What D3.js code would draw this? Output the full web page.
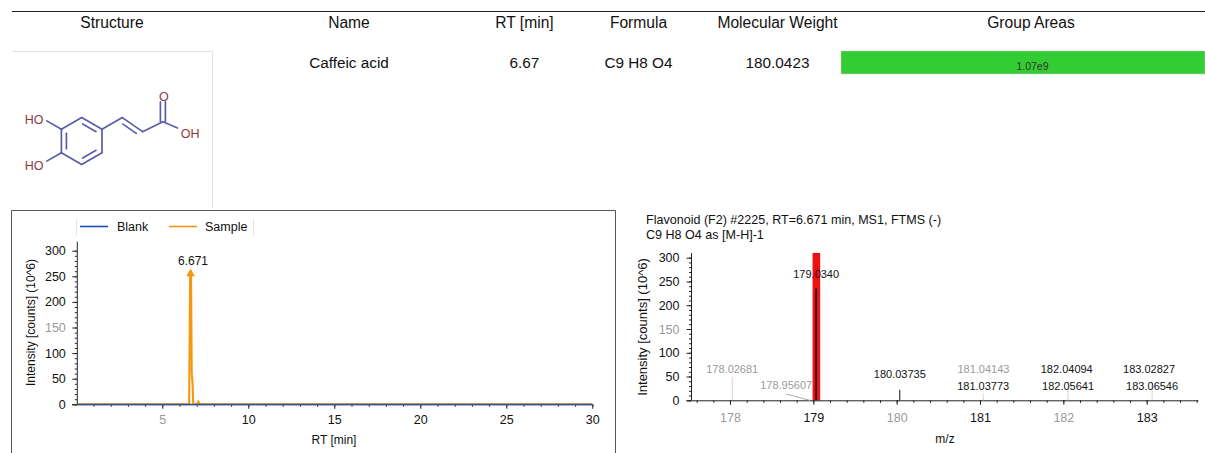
<!DOCTYPE html>
<html>
<head>
<meta charset="utf-8">
<script src="https://cdn.jsdelivr.net/npm/d3@7"></script>
<style>
  html, body { margin: 0; background: #fff; }
  svg { display: block; }
  text { font-family: "Liberation Sans", Arial, sans-serif; fill: #111; }
</style>
</head>
<body>
<div id="chart"></div>
<script>
// table
const headers = ['Structure', 'Name', 'RT [min]', 'Formula', 'Molecular Weight', 'Group Areas']
const rowValues = ['', 'Caffeic acid', '6.67', 'C9 H8 O4', '180.0423', '']
const groupArea = '1.07e9'

// chromatogram
const rtTicks = [5, 10, 15, 20, 25, 30]
const intensityTicks = [0, 50, 100, 150, 200, 250, 300]
const blankRt = [0.1, 30]
const blankIntensity = [0, 0]
const sampleRt = [0.1, 6.56, 6.62, 6.67, 6.71, 6.75, 6.8, 7.02, 7.1, 7.18, 30]
const sampleIntensity = [0, 0, 259, 259, 60, 46, 0, 0, 5, 0, 0]
const apexRt = 6.671
const apexIntensity = 259

// spectrum
const mzTicks = [178, 179, 180, 181, 182, 183]
const spectrumMz = [178.02681, 178.95607, 179.034, 180.03735, 181.04143, 181.03773, 182.04094, 182.05641, 183.02827, 183.06546]
const spectrumIntensity = [48, 1, 235, 22, 1, 14, 1, 42, 1, 38]
const spectrumLabels = ['178.02681', '178.95607', '179.0340', '180.03735', '181.04143', '181.03773', '182.04094', '182.05641', '183.02827', '183.06546']

// caffeic acid, lattice of half bonds
const molAtoms = [[0, -2], [1, -1], [1, 1], [0, 2], [-1, 1], [-1, -1], [2, -2], [3, -0.8], [4, -1.65], [4, -4], [5, -0.9], [-2, -2], [-2, 2]]
const molBonds = [[0, 1, 2], [1, 2, 1], [2, 3, 2], [3, 4, 1], [4, 5, 2], [5, 0, 1], [1, 6, 1], [6, 7, 2], [7, 8, 1], [8, 9, 2], [8, 10, 1], [5, 11, 1], [4, 12, 1]]
const molLabels = [[9, 'O'], [10, 'OH'], [11, 'HO'], [12, 'HO']]

const greyLabels = new Set(['5', '150', '178', '180', '182'])
const inkColor = '#111'
const greyColor = '#9a9a9a'
const blankColor = '#1c4fbd'
const sampleColor = '#f5970f'

const svg = d3.select('#chart').append('svg').attr('width', 1205).attr('height', 453)

// ---- table
const columnX = [112, 349, 524.5, 638.5, 777.5, 1031]
svg.append('line').attr('x1', 12).attr('x2', 1205).attr('y1', 11.5).attr('y2', 11.5).attr('stroke', '#222').attr('stroke-width', 1)
svg.selectAll('.header').data(headers).enter().append('text')
  .attr('class', 'header')
  .attr('x', (d, i) => columnX[i])
  .attr('y', 28)
  .attr('text-anchor', 'middle')
  .attr('font-size', 15.6)
  .text(d => d)
svg.selectAll('.cell').data(rowValues).enter().append('text')
  .attr('class', 'cell')
  .attr('x', (d, i) => columnX[i])
  .attr('y', 67.5)
  .attr('text-anchor', 'middle')
  .attr('font-size', 15.3)
  .text(d => d)
svg.append('rect').attr('x', 841).attr('y', 51).attr('width', 364).attr('height', 23)
  .attr('fill', '#33cc33').attr('stroke', '#c8c8c8').attr('stroke-width', 0.5)
svg.append('text').attr('x', 1032.5).attr('y', 70).attr('text-anchor', 'middle')
  .attr('font-size', 10.5).style('fill', '#333').text(groupArea)

// ---- structure
svg.append('path').attr('d', 'M12.5,51.5H212.5V208').attr('fill', 'none').attr('stroke', '#e2e2e2')

const molX = d3.scaleLinear().domain([0, 1]).range([81.7, 102])
const molY = d3.scaleLinear().domain([0, 1]).range([141, 152.7])
const mol = svg.append('g').attr('stroke', '#5b5ea6').attr('stroke-width', 1.7).attr('stroke-linecap', 'round')
const ringCentre = [0, 0]
molBonds.forEach(([a, b, order]) => {
  const [x1, y1] = molAtoms[a]
  const [x2, y2] = molAtoms[b]
  const ax = molX(x1)
  const ay = molY(y1)
  const bx = molX(x2)
  const by = molY(y2)
  const len = Math.hypot(bx - ax, by - ay)
  // terminal bonds stop short of the hetero atom label
  const cut = molLabels.some(l => l[0] === b) ? 0.28 : 0
  if (a === 8 && b === 9) {
    // carbonyl, two lines either side of the atom column
    [-2.5, 2.5].forEach(off => {
      mol.append('line')
        .attr('x1', ax + off).attr('y1', ay)
        .attr('x2', bx + off).attr('y2', by - (by - ay) * cut)
    })
    return
  }
  mol.append('line')
    .attr('x1', ax).attr('y1', ay)
    .attr('x2', bx - (bx - ax) * cut).attr('y2', by - (by - ay) * cut)
  if (order === 2) {
    let nx = -(by - ay) / len
    let ny = (bx - ax) / len
    const inRing = a < 6 && b < 6
    if (inRing) {
      const mx = (ax + bx) / 2 - molX(ringCentre[0])
      const my = (ay + by) / 2 - molY(ringCentre[1])
      if (mx * nx + my * ny > 0) { nx = -nx; ny = -ny }
    } else if (ny < 0) {
      nx = -nx
      ny = -ny
    }
    const gap = 5
    const inset = 0.17
    mol.append('line')
      .attr('x1', ax + (bx - ax) * inset + nx * gap)
      .attr('y1', ay + (by - ay) * inset + ny * gap)
      .attr('x2', ax + (bx - ax) * (1 - inset) + nx * gap)
      .attr('y2', ay + (by - ay) * (1 - inset) + ny * gap)
  }
})
const molLabelDx = { O: 1, OH: 7, HO: -7 }
const molLabelDy = { O: 7, OH: 8, HO: 6 }
svg.selectAll('.atom').data(molLabels).enter().append('text')
  .attr('class', 'atom')
  .attr('x', d => molX(molAtoms[d[0]][0]) + molLabelDx[d[1]])
  .attr('y', d => molY(molAtoms[d[0]][1]) + molLabelDy[d[1]])
  .attr('text-anchor', 'middle')
  .attr('font-size', 12.5)
  .style('fill', '#8c3a3f')
  .text(d => d[1])

// helper for the two plots, tick text can be washed out
const styleAxis = g => {
  g.selectAll('.domain').attr('stroke', '#222')
  g.selectAll('.tick line').attr('stroke', '#222')
  g.selectAll('.tick text')
    .attr('font-size', 12.5)
    .style('font-family', '"Liberation Sans", Arial, sans-serif')
    .style('fill', function () { return greyLabels.has(this.textContent) ? greyColor : inkColor })
}

// ---- chromatogram
svg.append('path').attr('d', 'M11.5,453V210.5H615.5V453').attr('fill', 'none').attr('stroke', '#555')

const xRt = d3.scaleLinear().domain([0, 30]).range([76.3, 592.3])
const yLeft = d3.scaleLinear().domain([0, 300]).range([404.3, 250.7])
const leftTop = 241.7

const drawLeft = svg.append('g')
const rtMinor = d3.range(1, 31)
drawLeft.append('g').attr('transform', `translate(0,${yLeft(0)})`)
  .call(d3.axisBottom(xRt).tickValues(rtMinor).tickSize(2.5).tickFormat(''))
  .call(g => g.select('.domain').remove())
  .call(styleAxis)
drawLeft.append('g').attr('transform', `translate(0,${yLeft(0)})`)
  .call(d3.axisBottom(xRt).tickValues(rtTicks).tickSize(4.5).tickSizeOuter(0).tickPadding(6))
  .call(styleAxis)
  .call(g => g.select('.domain').attr('d', `M72,0.5H${xRt(30)}`))
drawLeft.append('g').attr('transform', `translate(${xRt(0) + 0.5},0)`)
  .call(d3.axisLeft(yLeft).tickValues(d3.range(0, 310, 10)).tickSize(2).tickFormat(''))
  .call(g => g.select('.domain').remove())
  .call(styleAxis)
drawLeft.append('g').attr('transform', `translate(${xRt(0) + 0.5},0)`)
  .call(d3.axisLeft(yLeft).tickValues(intensityTicks).tickSize(4.5).tickSizeOuter(0).tickPadding(6.5))
  .call(styleAxis)
  .call(g => g.select('.domain').attr('d', `M0.5,${leftTop}V${yLeft(0)}`))

const lineLeft = d3.line().x(d => xRt(d[0])).y(d => yLeft(d[1]))
svg.append('path')
  .datum(d3.zip(sampleRt, sampleIntensity))
  .attr('d', lineLeft)
  .attr('fill', 'none').attr('stroke', sampleColor).attr('stroke-width', 2.1)
svg.append('path')
  .datum(d3.zip(blankRt, blankIntensity))
  .attr('d', lineLeft)
  .attr('fill', 'none').attr('stroke', blankColor).attr('stroke-width', 1.2)

// apex marker
const apexSymbol = d3.symbol().type(d3.symbolTriangle).size(32)
svg.append('path').attr('d', apexSymbol)
  .attr('transform', `translate(${xRt(apexRt) - 0.5},${yLeft(apexIntensity) + 2})`)
  .attr('fill', sampleColor)
svg.append('text').attr('x', xRt(apexRt) + 2).attr('y', yLeft(apexIntensity) - 6.5)
  .attr('text-anchor', 'middle').attr('font-size', 12).text(apexRt.toFixed(3))

svg.append('text').attr('transform', `translate(35,322.5) rotate(-90)`)
  .attr('text-anchor', 'middle').attr('font-size', 12).text('Intensity [counts] (10^6)')
svg.append('text').attr('x', 334).attr('y', 444).attr('text-anchor', 'middle').attr('font-size', 12).text('RT [min]')

// legend
const legendNames = ['Blank', 'Sample']
const legendColors = [blankColor, sampleColor]
const legendX = d3.scaleOrdinal().domain(legendNames).range([80, 169])
svg.selectAll('.sep').data([76.5, 253.5]).enter().append('line')
  .attr('class', 'sep').attr('x1', d => d).attr('x2', d => d).attr('y1', 219).attr('y2', 235).attr('stroke', '#e4e4e4')
const legendItems = svg.selectAll('.legend').data(legendNames).enter().append('g')
  .attr('class', 'legend')
  .attr('transform', d => `translate(${legendX(d)},226.5)`)
legendItems.append('line').attr('x2', 28).attr('stroke', (d, i) => legendColors[i]).attr('stroke-width', 1.6)
legendItems.append('text').attr('x', d => d === 'Blank' ? 37 : 36).attr('y', 4).attr('font-size', 12.5).text(d => d)

// ---- spectrum
svg.append('text').attr('x', 646).attr('y', 224).attr('font-size', 12.55)
  .text('Flavonoid (F2) #2225, RT=6.671 min, MS1, FTMS (-)')
svg.append('text').attr('x', 646).attr('y', 239).attr('font-size', 12.55)
  .text('C9 H8 O4 as [M-H]-1')

const xMz = d3.scaleLinear().domain([177.532, 183.616]).range([691, 1198])
const yRight = d3.scaleLinear().domain([0, 300]).range([400.3, 257.7])
const rightTop = 253

const isotopeMz = 179.034
svg.append('rect')
  .attr('x', xMz(isotopeMz) - 3.6).attr('width', 7.6)
  .attr('y', rightTop).attr('height', yRight(0) - rightTop)
  .attr('fill', '#ee1111')

svg.append('g').attr('transform', `translate(0,${yRight(0)})`)
  .call(d3.axisBottom(xMz).tickValues(d3.range(177.6, 183.7, 0.2)).tickSize(2.5).tickFormat(''))
  .call(g => g.select('.domain').remove())
  .call(styleAxis)
svg.append('g').attr('transform', `translate(0,${yRight(0)})`)
  .call(d3.axisBottom(xMz).tickValues(mzTicks).tickSize(4.5).tickSizeOuter(0).tickPadding(8).tickFormat(d3.format('d')))
  .call(styleAxis)
  .call(g => g.select('.domain').attr('d', 'M686.5,0.5H1198.5'))
svg.append('g').attr('transform', 'translate(691,0)')
  .call(d3.axisLeft(yRight).tickValues(d3.range(0, 310, 10)).tickSize(2).tickFormat(''))
  .call(g => g.select('.domain').remove())
  .call(styleAxis)
svg.append('g').attr('transform', 'translate(691,0)')
  .call(d3.axisLeft(yRight).tickValues(intensityTicks).tickSize(4.5).tickSizeOuter(0).tickPadding(7))
  .call(styleAxis)
  .call(g => g.select('.domain').attr('d', `M0.5,${rightTop}V${yRight(0)}`))

// solid sticks for strong peaks, dotted for the rest
const stickSolid = [false, false, true, true, false, false, false, false, false, false]
const labelGrey = [true, true, false, false, true, false, false, false, false, false]
const labelBaseline = [373, 389, 278, 378, 373, 390, 373, 390, 373, 390]

svg.selectAll('.stick').data(spectrumMz).enter().append('line')
  .attr('class', 'stick')
  .attr('x1', d => xMz(d)).attr('x2', d => xMz(d))
  .attr('y1', yRight(0))
  .attr('y2', (d, i) => yRight(spectrumIntensity[i]))
  .attr('stroke', (d, i) => stickSolid[i] ? '#111' : '#aaa')
  .attr('stroke-width', (d, i) => i === 2 ? 1.6 : 1)
  .attr('stroke-dasharray', (d, i) => stickSolid[i] ? null : '1,1')

svg.selectAll('.mz').data(spectrumLabels).enter().append('text')
  .attr('class', 'mz')
  .attr('x', (d, i) => i === 1 ? xMz(spectrumMz[i]) - 23.5 : xMz(spectrumMz[i]))
  .attr('y', (d, i) => labelBaseline[i])
  .attr('text-anchor', 'middle')
  .attr('font-size', 11)
  .style('fill', (d, i) => labelGrey[i] ? greyColor : inkColor)
  .text(d => d)

// leader of the labelled shoulder
svg.append('line')
  .attr('x1', xMz(spectrumMz[1]) - 23.5).attr('y1', 394)
  .attr('x2', xMz(spectrumMz[1])).attr('y2', yRight(0))
  .attr('stroke', '#aaa')

svg.append('text').attr('transform', `translate(647,327) rotate(-90)`)
  .attr('text-anchor', 'middle').attr('font-size', 13).text('Intensity [counts] (10^6)')
svg.append('text').attr('x', 945).attr('y', 443).attr('text-anchor', 'middle').attr('font-size', 12).text('m/z')
</script>
</body>
</html>
